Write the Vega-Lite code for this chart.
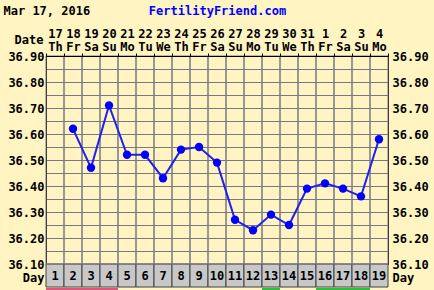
{
  "$schema": "https://vega.github.io/schema/vega-lite/v6.json",
  "autosize": {"type": "none"},
  "padding": {"left": 46, "top": 56, "right": 46, "bottom": 0},
  "background": "#FFF4C2",
  "width": 342,
  "height": 234,
  "config": {
    "view": {"stroke": null, "fill": "#FFF4C2"},
    "font": "DejaVu Sans Mono",
    "axis": {"labelFont": "DejaVu Sans Mono", "labelFontSize": 12, "labelFontWeight": "bold", "labelColor": "#000000", "titleFont": "DejaVu Sans Mono", "titleFontSize": 12, "titleFontWeight": "bold", "titleColor": "#000000"}
  },
  "data": {"values": [
      {"day": 1, "hdr": "17|Th", "temp": null, "code": "M"},
      {"day": 2, "hdr": "18|Fr", "temp": 36.62, "code": "M"},
      {"day": 3, "hdr": "19|Sa", "temp": 36.47, "code": "M"},
      {"day": 4, "hdr": "20|Su", "temp": 36.71, "code": "M"},
      {"day": 5, "hdr": "21|Mo", "temp": 36.52, "code": ""},
      {"day": 6, "hdr": "22|Tu", "temp": 36.52, "code": ""},
      {"day": 7, "hdr": "23|We", "temp": 36.43, "code": ""},
      {"day": 8, "hdr": "24|Th", "temp": 36.54, "code": ""},
      {"day": 9, "hdr": "25|Fr", "temp": 36.55, "code": ""},
      {"day": 10, "hdr": "26|Sa", "temp": 36.49, "code": ""},
      {"day": 11, "hdr": "27|Su", "temp": 36.27, "code": ""},
      {"day": 12, "hdr": "28|Mo", "temp": 36.23, "code": ""},
      {"day": 13, "hdr": "29|Tu", "temp": 36.29, "code": "G"},
      {"day": 14, "hdr": "30|We", "temp": 36.25, "code": ""},
      {"day": 15, "hdr": "31|Th", "temp": 36.39, "code": ""},
      {"day": 16, "hdr": "1|Fr", "temp": 36.41, "code": "G"},
      {"day": 17, "hdr": "2|Sa", "temp": 36.39, "code": "G"},
      {"day": 18, "hdr": "3|Su", "temp": 36.36, "code": "G"},
      {"day": 19, "hdr": "4|Mo", "temp": 36.58, "code": ""}
  ]},
  "resolve": {"scale": {"y": "independent"}, "axis": {"y": "independent"}},
  "layer": [
    {
      "mark": {"type": "rect", "fill": "#C8C8C8", "stroke": "#404040", "strokeWidth": 1},
      "encoding": {
        "x": {"field": "hdr", "type": "nominal", "sort": null,
          "scale": {"type": "band", "paddingInner": 0, "paddingOuter": 0},
          "axis": {"orient": "top", "labelExpr": "datum.value ? split(datum.value, '|') : ''", "labelAngle": 0, "labelLineHeight": 13, "labelPadding": 16, "labelBaseline": "alphabetic",
            "tickBand": "extent", "ticks": true, "tickSize": 3, "tickColor": "#000000", "domainColor": "#000000",
            "grid": false,
            "title": "Date", "titleX": -3, "titleY": -17, "titleAlign": "right", "titleBaseline": "middle", "titleAngle": 0}},
        "y": {"datum": "Day", "type": "nominal", "scale": {"type": "band", "range": [208, 231], "paddingInner": 0, "paddingOuter": 0},
          "axis": {"orient": "left", "ticks": false, "domain": false, "labelPadding": 2, "labelOffset": 2, "title": null}}
      }
    },
    {
      "mark": {"type": "rect", "fill": null, "stroke": "#787884", "strokeWidth": 1},
      "encoding": {
        "x": {"field": "hdr", "type": "nominal", "sort": null},
        "y": {"datum": "plot", "type": "nominal", "scale": {"type": "band", "range": [0, 208], "paddingInner": 0, "paddingOuter": 0}, "axis": null}
      }
    },
    {
      "mark": {"type": "text", "font": "DejaVu Sans Mono", "fontSize": 12, "fontWeight": "bold", "color": "#000000"},
      "encoding": {
        "x": {"field": "hdr", "type": "nominal", "sort": null},
        "y": {"datum": "Day", "type": "nominal", "scale": {"type": "band", "range": [208, 231], "paddingInner": 0, "paddingOuter": 0},
          "axis": {"orient": "right", "ticks": false, "domain": false, "labelPadding": 4, "labelOffset": 2, "title": null}},
        "text": {"field": "day", "type": "ordinal"}
      }
    },
    {
      "transform": [{"filter": "datum.code != ''"}],
      "mark": {"type": "rect"},
      "encoding": {
        "x": {"field": "hdr", "type": "nominal", "sort": null},
        "y": {"datum": "strip", "type": "nominal", "scale": {"type": "band", "range": [232, 234], "paddingInner": 0, "paddingOuter": 0}, "axis": null},
        "color": {"field": "code", "type": "nominal", "scale": {"domain": ["M", "G"], "range": ["#E0567A", "#2EBF3A"]}, "legend": null}
      }
    },
    {
      "mark": {"type": "line", "color": "#2020F4", "strokeWidth": 2},
      "encoding": {
        "x": {"field": "hdr", "type": "nominal", "sort": null},
        "y": {"field": "temp", "type": "quantitative",
          "scale": {"domain": [36.1, 36.9], "range": [208, 0], "nice": false, "zero": false},
          "axis": {"orient": "left", "values": [36.1, 36.15, 36.2, 36.25, 36.3, 36.35, 36.4, 36.45, 36.5, 36.55, 36.6, 36.65, 36.7, 36.75, 36.8, 36.85, 36.9],
            "labelExpr": "round(datum.value*100) % 10 == 0 ? format(datum.value, '.2f') : ''",
            "ticks": false, "labelPadding": 2, "domainColor": "#000000",
            "grid": true, "gridColor": "#787884", "gridOpacity": 1, "gridWidth": 1,
            "title": "Mar 17, 2016", "titleX": -43, "titleY": -46, "titleAlign": "left", "titleBaseline": "middle", "titleAngle": 0}}
      }
    },
    {
      "mark": {"type": "point", "filled": true, "color": "#0000FF", "opacity": 1, "size": 70},
      "encoding": {
        "x": {"field": "hdr", "type": "nominal", "sort": null},
        "y": {"field": "temp", "type": "quantitative",
          "scale": {"domain": [36.1, 36.9], "range": [208, 0], "nice": false, "zero": false},
          "axis": {"orient": "right", "values": [36.1, 36.2, 36.3, 36.4, 36.5, 36.6, 36.7, 36.8, 36.9],
            "format": ".2f", "ticks": false, "labelPadding": 4, "domainColor": "#000000", "grid": false,
            "title": "FertilityFriend.com", "titleColor": "#0000FF", "titleX": -171, "titleY": -46, "titleAlign": "center", "titleBaseline": "middle", "titleAngle": 0}}
      }
    }
  ]
}
